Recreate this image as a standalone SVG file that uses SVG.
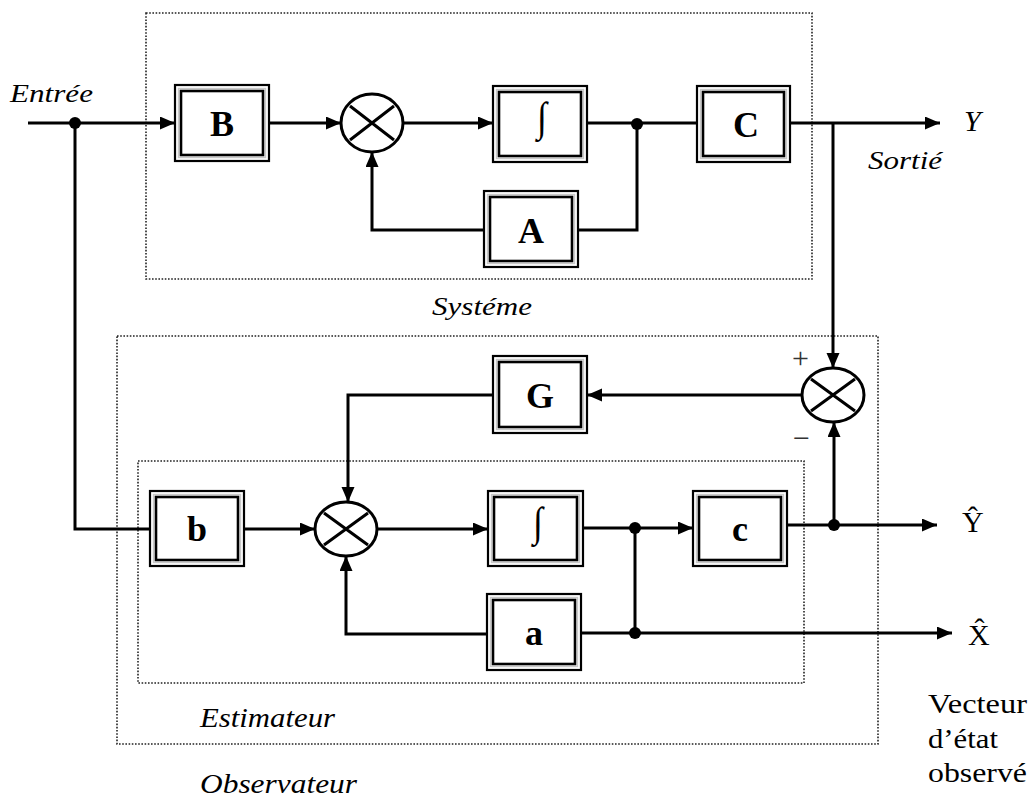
<svg xmlns="http://www.w3.org/2000/svg" width="1033" height="799" viewBox="0 0 1033 799">
<style>
.frame{fill:none;stroke:#222;stroke-width:1.6;stroke-dasharray:1.6 1.6}
.bo{fill:#fff;stroke:#000;stroke-width:2.2}
.bm{fill:none;stroke:#c8c8c8;stroke-width:1.4}
.bi{fill:none;stroke:#000;stroke-width:2.6}
.lbl{font-family:"Liberation Serif",serif;font-weight:bold;font-size:36px;text-anchor:middle;fill:#000}
.int{font-family:"Liberation Serif",serif;font-size:36px;text-anchor:middle;fill:#000}
.sum{fill:#fff;stroke:#000;stroke-width:3}
.x{stroke:#000;stroke-width:3}
.w{fill:none;stroke:#000;stroke-width:3;stroke-linejoin:miter}
.a{marker-end:url(#arr)}
.it{font-family:"Liberation Serif",serif;font-style:italic;font-size:26px;fill:#000}
.rm{font-family:"Liberation Serif",serif;font-size:27px;fill:#000}
.sg{font-family:"Liberation Serif",serif;font-size:30px;fill:#333}
</style>
<defs>
<marker id="arr" markerUnits="userSpaceOnUse" markerWidth="16" markerHeight="14" refX="15" refY="6.5" orient="auto">
<path d="M0,0 L15,6.5 L0,13 z" fill="#000"/>
</marker>
</defs>
<rect width="1033" height="799" fill="#fff"/>

<g id="frames">
<rect id="systeme-frame" class="frame" x="146" y="13" width="666" height="266"/>
<rect id="observateur-frame" class="frame" x="117" y="336" width="761" height="408"/>
<rect id="estimateur-frame" class="frame" x="138" y="461" width="666" height="222"/>
</g>

<g id="connectors">
<path class="w a" d="M28,123 H175"/>
<path class="w" d="M75,123 V529 H150"/>
<path class="w a" d="M269,123 H341"/>
<path class="w a" d="M403,123 H493"/>
<path class="w" d="M587,123 H697"/>
<path class="w" d="M637,123 V230 H578"/>
<path class="w a" d="M484,230 H372 V152"/>
<path class="w a" d="M790,123 H940"/>
<path class="w a" d="M833,123 V368"/>
<path class="w a" d="M802,395 H587"/>
<path class="w a" d="M493,395 H348 V502"/>
<path class="w a" d="M244,529 H315"/>
<path class="w a" d="M377,529 H488"/>
<path class="w a" d="M583,528 H693"/>
<path class="w" d="M635,528 V633"/>
<path class="w a" d="M581,633 H952"/>
<path class="w a" d="M487,634 H346 V556"/>
<path class="w a" d="M787,525 H937"/>
<path class="w a" d="M834,525 V422"/>
<circle cx="75" cy="123" r="6"/>
<circle cx="637" cy="124" r="6"/>
<circle cx="635" cy="528" r="6"/>
<circle cx="635" cy="633" r="6"/>
<circle cx="834" cy="525" r="6"/>
</g>

<g id="node-B">
<rect class="bo" x="175" y="85" width="94" height="76"/>
<rect class="bm" x="178.5" y="88.5" width="87" height="69"/>
<rect class="bi" x="181" y="91" width="82" height="64"/>
<text class="lbl" x="222" y="136">B</text>
</g>
<g id="node-sum1">
<ellipse class="sum" cx="372" cy="123" rx="31" ry="29"/>
<path class="x" d="M350,106 L394,140 M350,140 L394,106"/>
</g>
<g id="node-int1">
<rect class="bo" x="493" y="86" width="94" height="76"/>
<rect class="bm" x="496.5" y="89.5" width="87" height="69"/>
<rect class="bi" x="499" y="92" width="82" height="64"/>
<text class="int" transform="translate(542,123) scale(1,1.15)" x="0" y="6.7">∫</text>
</g>
<g id="node-C">
<rect class="bo" x="697" y="86" width="93" height="76"/>
<rect class="bm" x="700.5" y="89.5" width="86" height="69"/>
<rect class="bi" x="703" y="92" width="81" height="64"/>
<text class="lbl" x="746" y="137">C</text>
</g>
<g id="node-A">
<rect class="bo" x="484" y="191" width="94" height="76"/>
<rect class="bm" x="487.5" y="194.5" width="87" height="69"/>
<rect class="bi" x="490" y="197" width="82" height="64"/>
<text class="lbl" x="531" y="243">A</text>
</g>
<g id="node-G">
<rect class="bo" x="493" y="356" width="94" height="77"/>
<rect class="bm" x="496.5" y="359.5" width="87" height="70"/>
<rect class="bi" x="499" y="362" width="82" height="65"/>
<text class="lbl" x="540" y="408">G</text>
</g>
<g id="node-sum2">
<ellipse class="sum" cx="833" cy="395" rx="31" ry="27"/>
<path class="x" d="M811,379 L855,411 M811,411 L855,379"/>
<text class="sg" x="792" y="368">+</text>
<text class="sg" x="793" y="448">−</text>
</g>
<g id="node-b">
<rect class="bo" x="150" y="491" width="94" height="75"/>
<rect class="bm" x="153.5" y="494.5" width="87" height="68"/>
<rect class="bi" x="156" y="497" width="82" height="63"/>
<text class="lbl" x="197" y="541">b</text>
</g>
<g id="node-sum3">
<ellipse class="sum" cx="346" cy="529" rx="31" ry="27"/>
<path class="x" d="M324,513 L368,545 M324,545 L368,513"/>
</g>
<g id="node-int2">
<rect class="bo" x="488" y="491" width="95" height="75"/>
<rect class="bm" x="491.5" y="494.5" width="88" height="68"/>
<rect class="bi" x="494" y="497" width="83" height="63"/>
<text class="int" transform="translate(538,528) scale(1,1.15)" x="0" y="6.7">∫</text>
</g>
<g id="node-c">
<rect class="bo" x="693" y="491" width="94" height="75"/>
<rect class="bm" x="696.5" y="494.5" width="87" height="68"/>
<rect class="bi" x="699" y="497" width="82" height="63"/>
<text class="lbl" x="740" y="541">c</text>
</g>
<g id="node-a">
<rect class="bo" x="487" y="594" width="94" height="76"/>
<rect class="bm" x="490.5" y="597.5" width="87" height="69"/>
<rect class="bi" x="493" y="600" width="82" height="64"/>
<text class="lbl" x="534" y="645">a</text>
</g>

<g id="labels">
<text class="it" x="10" y="102" textLength="83" lengthAdjust="spacingAndGlyphs">Entrée</text>
<text class="it" x="964" y="131" style="font-size:30px">Y</text>
<text class="it" x="868" y="169" textLength="74" lengthAdjust="spacingAndGlyphs">Sortié</text>
<text class="it" x="432" y="315" textLength="100" lengthAdjust="spacingAndGlyphs">Systéme</text>
<text class="rm" x="962" y="532" style="font-size:30px">Ŷ</text>
<text class="rm" x="968" y="645" style="font-size:30px">X̂</text>
<text class="it" x="200" y="727" textLength="135" lengthAdjust="spacingAndGlyphs" style="font-size:27px">Estimateur</text>
<text class="it" x="200" y="793" textLength="157" lengthAdjust="spacingAndGlyphs" style="font-size:27px">Observateur</text>
<text class="rm" x="928" y="713" textLength="99" lengthAdjust="spacingAndGlyphs">Vecteur</text>
<text class="rm" x="928" y="748" textLength="70" lengthAdjust="spacingAndGlyphs">d’état</text>
<text class="rm" x="928" y="782" textLength="99" lengthAdjust="spacingAndGlyphs">observé</text>
</g>
</svg>
